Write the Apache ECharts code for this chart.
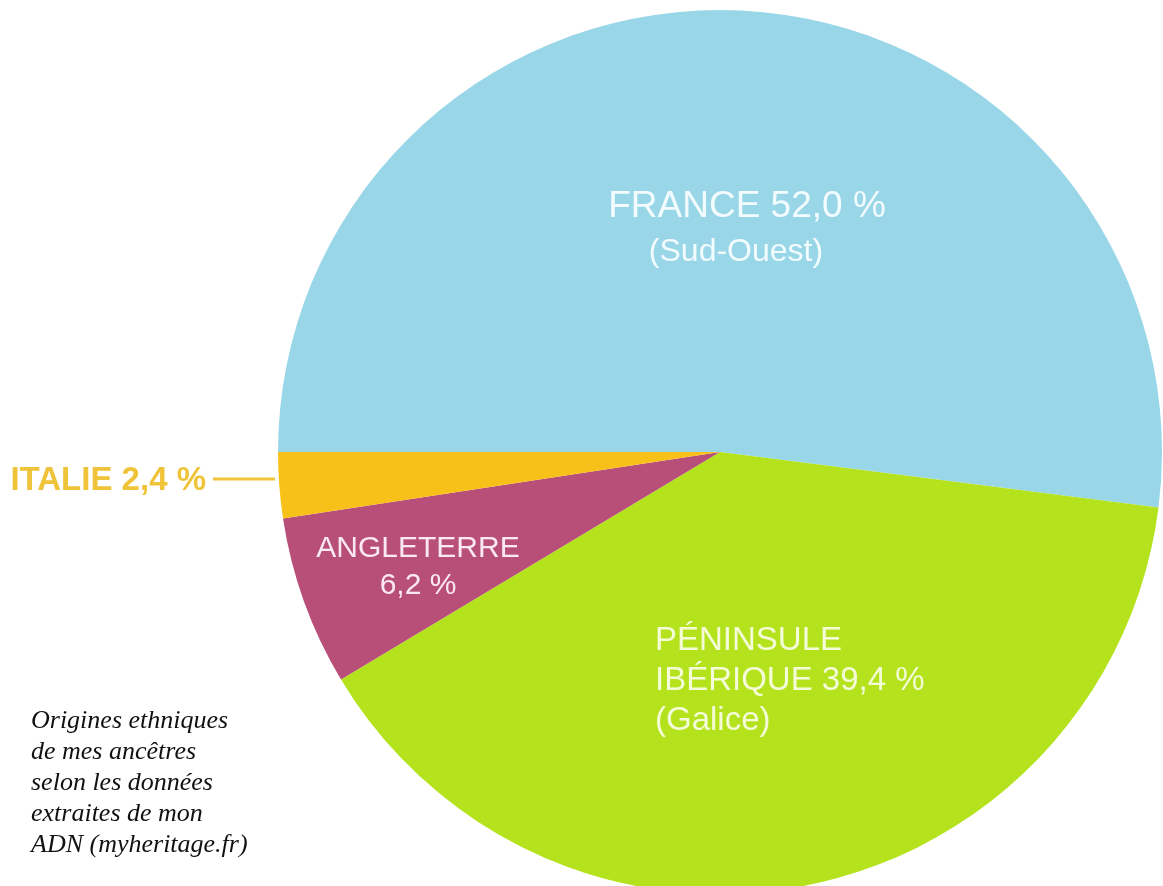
<!DOCTYPE html>
<html>
<head>
<meta charset="utf-8">
<script src="https://cdn.jsdelivr.net/npm/echarts@6/dist/echarts.min.js"></script>
<style>
  html, body { margin: 0; padding: 0; background: #ffffff; }
  #chart { width: 1163px; height: 886px; }
</style>
</head>
<body>
<div id="chart"></div>
<script>
// Ancestry breakdown (percent of DNA)
const regions = ['FRANCE', 'PÉNINSULE IBÉRIQUE', 'ANGLETERRE', 'ITALIE'];
const subRegions = ['Sud-Ouest', 'Galice', '', ''];
const shares = [52.0, 39.4, 6.2, 2.4];
const sliceColors = ['#99d7e8', '#b4e31e', '#b84f79', '#f8c11a'];
const captionLines = [
  'Origines ethniques',
  'de mes ancêtres',
  'selon les données',
  'extraites de mon',
  'ADN (myheritage.fr)'
];

const pct = v => v.toFixed(1).replace('.', ',') + ' %';

// Label text per slice
const labelText = [
  i => '{a|' + regions[i] + ' ' + pct(shares[i]) + '}\n{b|(' + subRegions[i] + ')}',
  i => '{a|PÉNINSULE}\n{a|IBÉRIQUE ' + pct(shares[i]) + '}\n{a|(' + subRegions[i] + ')}',
  i => '{a|' + regions[i] + '}\n{a|' + pct(shares[i]) + '}',
  i => regions[i] + ' ' + pct(shares[i])
];

// Where each label sits
const labelPlacement = [
  { x: 747, y: 229, align: 'center', verticalAlign: 'middle' },
  { x: 655, y: 681, align: 'left', verticalAlign: 'middle' },
  { x: 418, y: 567, align: 'center', verticalAlign: 'middle' },
  { x: 206, y: 481, align: 'right', verticalAlign: 'middle',
    labelLinePoints: [[275, 479], [244, 479], [213, 479]] }
];

const labelStyles = [
  { position: 'inside', color: '#f2fbfd',
    rich: { a: { fontSize: 37, lineHeight: 46, color: '#f2fbfd', fontFamily: 'Liberation Sans' },
            b: { fontSize: 32, lineHeight: 44, color: '#f2fbfd', fontFamily: 'Liberation Sans', padding: [0, 22, 0, 0] } } },
  { position: 'inside', color: '#f4fbd6',
    rich: { a: { fontSize: 33, lineHeight: 40, color: '#f4fbd6', fontFamily: 'Liberation Sans' } } },
  { position: 'inside', color: '#fbe9f1',
    rich: { a: { fontSize: 30, lineHeight: 37, color: '#fbe9f1', fontFamily: 'Liberation Sans' } } },
  { position: 'outside', color: '#efc43a', fontSize: 33, fontWeight: 'bold', fontFamily: 'Liberation Sans' }
];

const seriesData = regions.map((name, i) => ({
  name: name,
  value: shares[i],
  itemStyle: { color: sliceColors[i] },
  label: Object.assign({ show: true, formatter: () => labelText[i](i) }, labelStyles[i]),
  labelLine: i === 3
    ? { show: true, lineStyle: { color: '#efc43a', width: 3 } }
    : { show: false }
}));

const chart = echarts.init(document.getElementById('chart'), null, { renderer: 'canvas' });

chart.setOption({
  animation: false,
  backgroundColor: '#ffffff',
  series: [{
    type: 'pie',
    center: [720, 452],
    radius: [0, 442],
    startAngle: 180,
    clockwise: true,
    avoidLabelOverlap: false,
    emphasis: { disabled: true },
    itemStyle: { borderWidth: 0 },
    data: seriesData,
    labelLayout: params => labelPlacement[params.dataIndex]
  }],
  graphic: [{
    type: 'text',
    left: 31,
    top: 706,
    style: {
      text: captionLines.join('\n'),
      fontFamily: 'Liberation Serif',
      fontStyle: 'italic',
      fontSize: 26,
      lineHeight: 31,
      fill: '#111111'
    }
  }]
});
</script>
</body>
</html>
